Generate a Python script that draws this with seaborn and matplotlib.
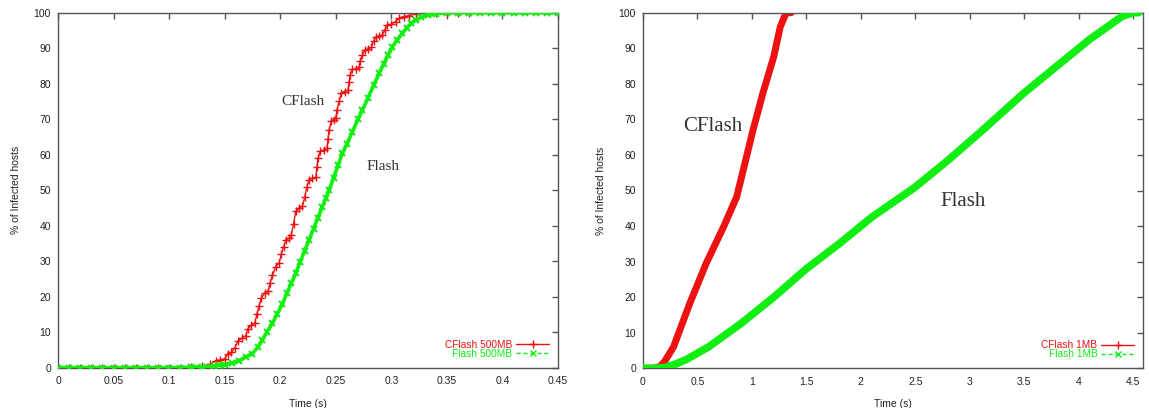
import matplotlib
matplotlib.use("Agg")
import matplotlib.pyplot as plt
from matplotlib.lines import Line2D
import seaborn as sns
import pandas as pd

# ---------------- data ----------------
# Left panel: 500MB
cflash500_x = [0.000, 0.010, 0.020, 0.030, 0.040, 0.050, 0.060, 0.070, 0.080, 0.090, 0.100, 0.110,
               0.120, 0.130, 0.137, 0.142, 0.146, 0.150, 0.153, 0.156, 0.159, 0.162, 0.166, 0.169,
               0.171, 0.174, 0.177, 0.179, 0.181, 0.183, 0.186, 0.189, 0.191, 0.193, 0.196, 0.199,
               0.201, 0.203, 0.205, 0.208, 0.210, 0.212, 0.214, 0.217, 0.220, 0.222, 0.224, 0.226,
               0.229, 0.232, 0.233, 0.234, 0.236, 0.239, 0.242, 0.243, 0.244, 0.246, 0.248, 0.250,
               0.251, 0.253, 0.255, 0.258, 0.261, 0.262, 0.263, 0.265, 0.268, 0.271, 0.272, 0.274,
               0.276, 0.279, 0.282, 0.284, 0.286, 0.289, 0.292, 0.294, 0.296, 0.300, 0.304, 0.307,
               0.311, 0.316, 0.322, 0.330, 0.340, 0.350, 0.360, 0.370]
cflash500_y = [0, 0, 0, 0, 0, 0, 0, 0, 0, 0, 0, 0,
               0.2, 0.5, 1, 2, 2.2, 2.5, 4, 4.3, 5.5, 7.5, 8.5, 9,
               11, 12, 12.5, 15, 17.5, 19.5, 21, 21.5, 24, 26, 28.5, 29.5,
               32, 34, 36, 36.5, 37.5, 40.5, 44, 45, 45.5, 48, 51, 53,
               53.3, 53.6, 56.5, 59, 61, 61.3, 61.8, 64.5, 67, 69.5, 69.8, 70.2,
               72.5, 75, 77.5, 77.8, 78.2, 80.5, 82.5, 84, 84.2, 84.6, 86.5, 88,
               89.5, 89.8, 90.3, 92, 93.2, 93.4, 93.8, 95, 96.5, 96.8, 97.5, 98.5,
               98.9, 99.2, 99.7, 100, 100, 100, 100, 100]

flash500_x = [0.000, 0.010, 0.020, 0.030, 0.040, 0.050, 0.060, 0.070, 0.080, 0.090, 0.100, 0.110,
              0.120, 0.130, 0.140, 0.145, 0.150, 0.157, 0.163, 0.169, 0.175, 0.180, 0.184, 0.188,
              0.193, 0.197, 0.202, 0.206, 0.210, 0.214, 0.218, 0.222, 0.226, 0.230, 0.234, 0.238,
              0.241, 0.244, 0.248, 0.252, 0.256, 0.260, 0.265, 0.270, 0.274, 0.279, 0.284, 0.289,
              0.293, 0.297, 0.301, 0.305, 0.310, 0.314, 0.318, 0.322, 0.327, 0.333, 0.340, 0.350,
              0.360, 0.370, 0.380, 0.390, 0.400, 0.410, 0.420, 0.430, 0.440, 0.450]
flash500_y = [0, 0, 0, 0, 0, 0, 0, 0, 0, 0, 0, 0,
              0.2, 0.3, 0.5, 0.7, 0.9, 1.2, 2, 3, 4, 5.8, 7.8, 10,
              12.5, 15, 18, 21, 23.8, 26.6, 29.8, 33, 36, 39.2, 42.3, 45.4,
              47.7, 50, 53.5, 57, 60.4, 63, 66.5, 70, 72.6, 76, 79.5, 82.9,
              85.5, 88, 90.4, 92.2, 94.2, 95.8, 97, 98, 98.7, 99.3, 99.7, 100,
              100, 100, 100, 100, 100, 100, 100, 100, 100, 100]

# Right panel: 1MB
cflash1_x = [0.0, 0.1, 0.156, 0.2, 0.28, 0.43, 0.58, 0.74, 0.86, 0.92, 1.01, 1.10, 1.20, 1.26,
             1.30, 1.32, 1.36]
cflash1_y = [0, 0, 0.5, 2, 6, 18.3, 29.5, 39.8, 48.2, 55.7, 67, 77.3, 87.6, 96,
             99, 100, 100]

flash1_x = [0.0, 0.1, 0.2, 0.3, 0.4, 0.6, 0.9, 1.2, 1.5, 1.8, 2.1, 2.5, 2.8, 3.1, 3.5, 3.8,
            4.1, 4.4, 4.5, 4.55]
flash1_y = [0, 0, 0.2, 1.2, 2.5, 6, 12.6, 20, 28, 35, 42.5, 51, 58.5, 66.5, 77.5, 85,
            92.5, 99, 100, 100]

left_xticks = [0, 0.05, 0.1, 0.15, 0.2, 0.25, 0.3, 0.35, 0.4, 0.45]
left_xticklabels = ["0", "0.05", "0.1", "0.15", "0.2", "0.25", "0.3", "0.35", "0.4", "0.45"]
right_xticks = [0, 0.5, 1, 1.5, 2, 2.5, 3, 3.5, 4, 4.5]
right_xticklabels = ["0", "0.5", "1", "1.5", "2", "2.5", "3", "3.5", "4", "4.5"]
yticks = [0, 10, 20, 30, 40, 50, 60, 70, 80, 90, 100]

RED = "#ee1111"
GREEN = "#11ee11"
SPINE = "#555555"

# ---------------- style ----------------
sns.set_style("white")
plt.rcParams["font.family"] = ["Liberation Sans", "DejaVu Sans"]

fig = plt.figure(figsize=(11.49, 4.08), dpi=100)
axL = fig.add_axes([58 / 1149, 1 - 367.7 / 408, 500 / 1149, 355 / 408])
axR = fig.add_axes([643 / 1149, 1 - 368.3 / 408, 500 / 1149, 355.6 / 408])


def style_axes(ax, xlim, xticks, xticklabels):
    ax.set_xlim(*xlim)
    ax.set_ylim(0, 100)
    ax.set_xticks(xticks)
    ax.set_xticklabels(xticklabels)
    ax.set_yticks(yticks)
    ax.tick_params(direction="in", length=4, width=1, color=SPINE, top=True, right=True,
                   labelsize=7.5, labelcolor="#222222")
    ax.tick_params(axis="x", pad=6)
    ax.tick_params(axis="y", pad=5)
    for s in ax.spines.values():
        s.set_color(SPINE)
        s.set_linewidth(1.0)
        s.set_visible(True)
    ax.set_xlabel("Time (s)", fontsize=7.5, labelpad=9, color="#222222")
    ax.set_ylabel("% of Infected hosts", fontsize=7.5, labelpad=9, color="#222222")


# Left panel
dfL_c = pd.DataFrame({"x": cflash500_x, "y": cflash500_y})
dfL_f = pd.DataFrame({"x": flash500_x, "y": flash500_y})
sns.lineplot(data=dfL_f, x="x", y="y", ax=axL, color=GREEN, estimator=None, sort=False,
             linewidth=2.6, marker="x", markersize=5, markeredgewidth=1.5,
             markeredgecolor=GREEN, legend=False, zorder=3)
sns.lineplot(data=dfL_c, x="x", y="y", ax=axL, color=RED, estimator=None, sort=False,
             linewidth=1.0, marker="+", markersize=6, markeredgewidth=1.0,
             markeredgecolor=RED, legend=False, zorder=2)
style_axes(axL, (0, 0.45), left_xticks, left_xticklabels)
axL.text(0.22, 75, "CFlash", family=["Liberation Serif", "DejaVu Serif"], fontsize=11,
         color="#333333", ha="center", va="center")
axL.text(0.278, 56.6, "Flash", family=["Liberation Serif", "DejaVu Serif"], fontsize=11,
         color="#333333", ha="left", va="center")

# Right panel
dfR_c = pd.DataFrame({"x": cflash1_x, "y": cflash1_y})
dfR_f = pd.DataFrame({"x": flash1_x, "y": flash1_y})
sns.lineplot(data=dfR_c, x="x", y="y", ax=axR, color=RED, estimator=None, sort=False,
             linewidth=5.0, legend=False, zorder=2, solid_capstyle="round",
             solid_joinstyle="round")
sns.lineplot(data=dfR_f, x="x", y="y", ax=axR, color=GREEN, estimator=None, sort=False,
             linewidth=5.5, legend=False, zorder=3, solid_capstyle="round",
             solid_joinstyle="round")
style_axes(axR, (0, 4.59), right_xticks, right_xticklabels)
axR.text(0.64, 68, "CFlash", family=["Liberation Serif", "DejaVu Serif"], fontsize=15,
         color="#333333", ha="center", va="center")
axR.text(2.94, 46.8, "Flash", family=["Liberation Serif", "DejaVu Serif"], fontsize=15,
         color="#333333", ha="center", va="center")


def add_legend(ax, lab1, lab2):
    h1 = Line2D([], [], color=RED, lw=1, marker="+", markersize=6, label=lab1)
    h2 = Line2D([], [], color=GREEN, lw=1, ls=(0, (3, 2)), marker="x", markersize=4, label=lab2)
    ax.legend(handles=[h1, h2], loc="lower right", frameon=False, markerfirst=False,
              labelcolor="linecolor", fontsize=7.3, handlelength=3.2, handletextpad=0.4,
              labelspacing=-0.1, borderaxespad=0.5, numpoints=1)


add_legend(axL, "CFlash 500MB", "Flash 500MB")
add_legend(axR, "CFlash 1MB", "Flash 1MB")

fig.savefig("out.png", dpi=100)
